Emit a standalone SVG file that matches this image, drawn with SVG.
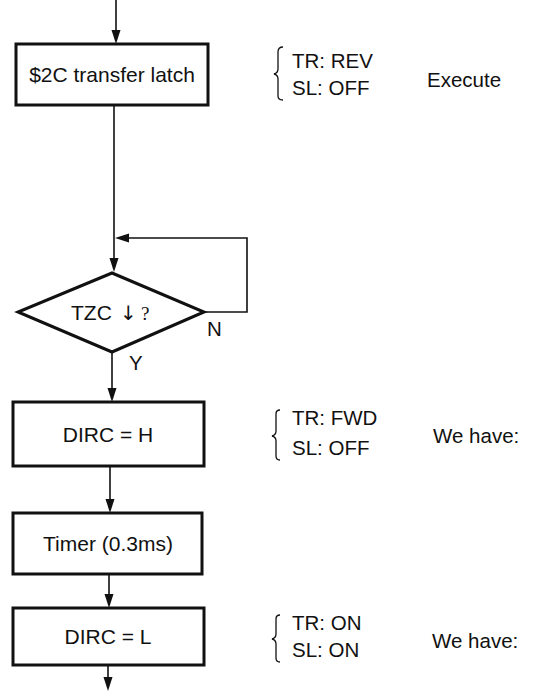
<svg xmlns="http://www.w3.org/2000/svg" width="534" height="699" viewBox="0 0 534 699">
<style>
.box{fill:#fff;stroke:#111;stroke-width:3}
.ln{fill:none;stroke:#111;stroke-width:1.6}
.br{fill:none;stroke:#111;stroke-width:1.3}
.ah{fill:#111}
text{font-family:"Liberation Sans",Arial,sans-serif;fill:#111}
.t{font-size:21px}
.s{font-size:20.5px}
</style>
<defs>
<path id="adown" class="ah" d="M0,0 L-4.5,-14 L4.5,-14 z"/>
<path id="aleft" class="ah" d="M0,0 L14,-4.5 L14,4.5 z"/>
</defs>
<g id="connectors">
<line class="ln" x1="116" y1="0" x2="116" y2="40"/>
<use href="#adown" x="116" y="44"/>
<line class="ln" x1="114" y1="105" x2="114" y2="262"/>
<use href="#adown" x="114" y="272"/>
<polyline class="ln" points="204,312 247,312 247,238 126,238"/>
<use href="#aleft" x="115" y="238"/>
<line class="ln" x1="112" y1="352" x2="112" y2="392"/>
<use href="#adown" x="112" y="402"/>
<line class="ln" x1="110" y1="466" x2="110" y2="503"/>
<use href="#adown" x="110" y="513"/>
<line class="ln" x1="109" y1="574" x2="109" y2="598"/>
<use href="#adown" x="109" y="608"/>
<line class="ln" x1="108" y1="665" x2="108" y2="680"/>
<use href="#adown" x="108" y="691"/>
</g>
<g id="n1">
<rect class="box" x="16" y="44" width="192" height="61"/>
<text class="t" x="112" y="82" text-anchor="middle">$2C transfer latch</text>
</g>
<g id="n1note">
<path class="br" d="M283,47 Q278,47 278,52 L278,69 Q278,73 274,74 Q278,75 278,79 L278,96 Q278,100 283,100"/>
<text class="s" x="292" y="68">TR: REV</text>
<text class="s" x="292" y="95">SL: OFF</text>
<text class="s" x="427" y="87">Execute</text>
</g>
<g id="d1">
<polygon class="box" points="112,273 204,312 112,352 18,312"/>
<text class="t" x="71" y="320">TZC</text>
<text x="120" y="320" style="font-family:'DejaVu Sans',sans-serif;font-size:20px">↓</text>
<text x="141" y="320" style="font-family:'Liberation Serif',serif;font-size:19px">?</text>
<text class="s" x="207" y="336">N</text>
<text class="s" x="129" y="370">Y</text>
</g>
<g id="n2">
<rect class="box" x="13" y="402" width="191" height="64"/>
<text class="t" x="108" y="442" text-anchor="middle">DIRC = H</text>
</g>
<g id="n2note">
<path class="br" d="M280,410 Q276,410 276,414 L276,431 Q276,435 272,436 Q276,437 276,441 L276,456 Q276,460 280,460"/>
<text class="s" x="292" y="425">TR: FWD</text>
<text class="s" x="292" y="455">SL: OFF</text>
<text class="s" x="433" y="443">We have:</text>
</g>
<g id="n3">
<rect class="box" x="13" y="513" width="189" height="61"/>
<text class="t" x="108" y="551" text-anchor="middle">Timer (0.3ms)</text>
</g>
<g id="n4">
<rect class="box" x="13" y="608" width="191" height="57"/>
<text class="t" x="108" y="644" text-anchor="middle">DIRC = L</text>
</g>
<g id="n4note">
<path class="br" d="M280,615 Q276,615 276,619 L276,634 Q276,638 272,639 Q276,640 276,644 L276,658 Q276,662 280,662"/>
<text class="s" x="292" y="630">TR: ON</text>
<text class="s" x="292" y="657">SL: ON</text>
<text class="s" x="432" y="648">We have:</text>
</g>
</svg>
